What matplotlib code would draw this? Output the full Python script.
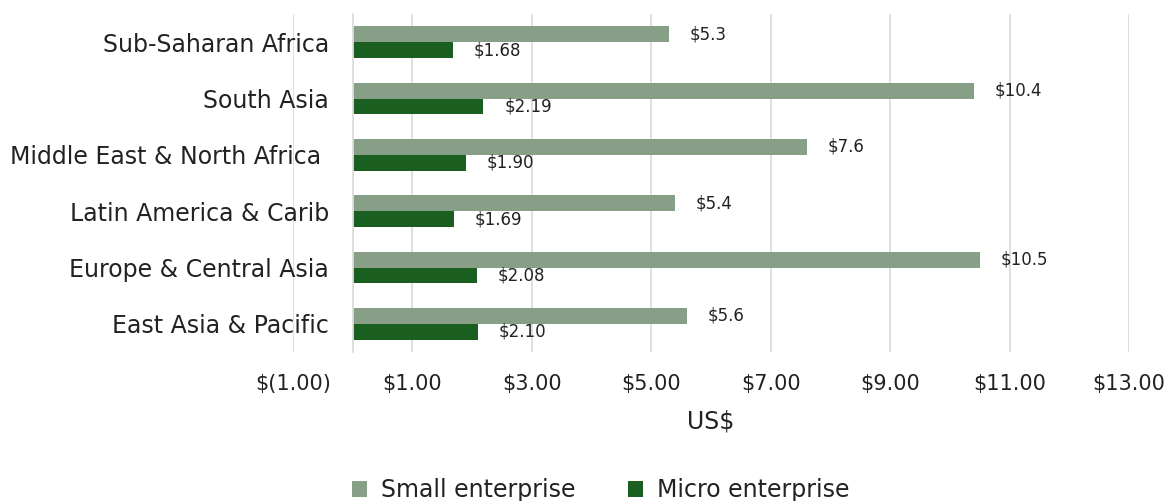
import matplotlib
matplotlib.use("Agg")
import matplotlib.pyplot as plt
import numpy as np
from matplotlib.ticker import FuncFormatter

regions = [
    "East Asia & Pacific",
    "Europe & Central Asia",
    "Latin America & Carib",
    "Middle East & North Africa ",
    "South Asia",
    "Sub-Saharan Africa",
]
small_vals = [5.6, 10.5, 5.4, 7.6, 10.4, 5.3]
micro_vals = [2.10, 2.08, 1.69, 1.90, 2.19, 1.68]
x_ticks = [-1, 1, 3, 5, 7, 9, 11, 13]

SMALL_COLOR = "#879e87"
MICRO_COLOR = "#1a5e20"
GRID_COLOR = "#dcdcdc"
TEXT_COLOR = "#222222"

plt.rcParams["font.family"] = ["DejaVu Sans"]


def money(v, _pos=None):
    if v < 0:
        return f"$({abs(v):.2f})"
    return f"${v:.2f}"


fig = plt.figure(figsize=(11.71, 5.01), dpi=100)
ax = fig.add_axes([293 / 1171, 1 - 352 / 501, (1129 - 293) / 1171, (352 - 14) / 501])

y = np.arange(len(regions))
h = 0.28
small_bars = ax.barh(y + h / 2, small_vals, height=h, color=SMALL_COLOR, label="Small enterprise")
micro_bars = ax.barh(y - h / 2, micro_vals, height=h, color=MICRO_COLOR, label="Micro enterprise")

for rect, v in zip(small_bars, small_vals):
    ax.annotate(f"${v:.1f}", (v, rect.get_y() + rect.get_height() / 2),
                xytext=(15, 0), textcoords="offset points",
                va="center", ha="left", fontsize=12, color=TEXT_COLOR)
for rect, v in zip(micro_bars, micro_vals):
    ax.annotate(f"${v:.2f}", (v, rect.get_y() + rect.get_height() / 2),
                xytext=(15, 0), textcoords="offset points",
                va="center", ha="left", fontsize=12, color=TEXT_COLOR)

ax.set_xlim(-1, 13)
ax.set_ylim(-0.5, len(regions) - 0.5)
ax.set_xticks(x_ticks)
ax.xaxis.set_major_formatter(FuncFormatter(money))
ax.set_yticks(y)
ax.set_yticklabels(regions)

# category axis sits at zero, labels follow it
ax.spines["left"].set_position(("data", 0))
ax.spines["left"].set_color(GRID_COLOR)
ax.spines["left"].set_linewidth(1.3)
for side in ("top", "right", "bottom"):
    ax.spines[side].set_visible(False)

ax.grid(axis="x", color=GRID_COLOR, linewidth=1.3)
ax.set_axisbelow(True)
ax.tick_params(axis="y", length=0, pad=17, labelsize=17, labelcolor=TEXT_COLOR)
ax.tick_params(axis="x", length=0, pad=16, labelsize=15, labelcolor=TEXT_COLOR)
ax.set_xlabel("US$", fontsize=17, color=TEXT_COLOR, labelpad=11)

fig.legend(handles=[small_bars, micro_bars], loc="center",
           bbox_to_anchor=(0.513, 1 - 490 / 501), ncol=2, frameon=False,
           fontsize=17, handlelength=0.65, handleheight=0.65, handletextpad=0.6,
           columnspacing=2.2, labelcolor=TEXT_COLOR)

fig.savefig("out.png", dpi=100)
